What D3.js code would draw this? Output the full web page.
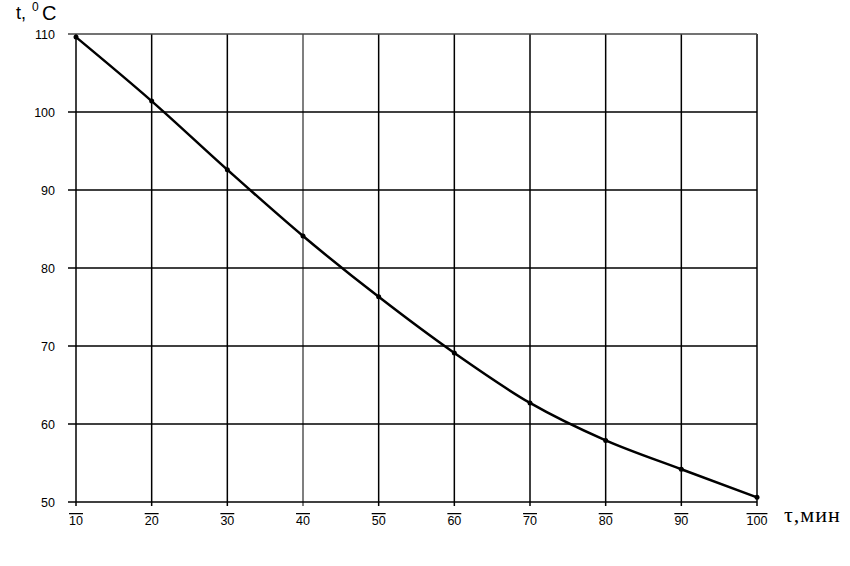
<!DOCTYPE html>
<html>
<head>
<meta charset="utf-8">
<script src="https://cdn.jsdelivr.net/npm/d3@7"></script>
<style>
	body { margin: 0; background: #fff; }
	svg { display: block; }
	.tick text { font-family: "Liberation Sans", Arial, sans-serif; font-size: 12.5px; fill: #000; }
</style>
</head>
<body>
<div id="chart"></div>
<script>
let minutes = [10, 20, 30, 40, 50, 60, 70, 80, 90, 100];
let temps = [109.6, 101.4, 92.6, 84.1, 76.3, 69.1, 62.7, 57.9, 54.2, 50.6];
let xTicks = [10, 20, 30, 40, 50, 60, 70, 80, 90, 100];
let yTicks = [50, 60, 70, 80, 90, 100, 110];

let width = 850, height = 566;
let margin = { left: 76, right: 93, top: 34, bottom: 64 };

let svg = d3.select("#chart").append("svg").
	attr("width", width).
	attr("height", height);

let x = d3.scaleLinear().domain([10, 100]).range([margin.left, width - margin.right]);
let y = d3.scaleLinear().domain([50, 110]).range([height - margin.bottom, margin.top]);

// grid
svg.append("g").
	selectAll("line").
	data(xTicks).
	join("line").
	attr("x1", d => x(d)).attr("x2", d => x(d)).
	attr("y1", y(110)).attr("y2", y(50) + 4).
	attr("stroke", d => d === 40 ? "#555" : "#000").
	attr("stroke-width", 1.5);

svg.append("g").
	selectAll("line").
	data(yTicks).
	join("line").
	attr("x1", x(10) - 8).attr("x2", x(100)).
	attr("y1", d => y(d)).attr("y2", d => y(d)).
	attr("stroke", d => d === 110 ? "#444" : "#000").
	attr("stroke-width", 1.5);

// axis labels
svg.append("g").
	attr("class", "tick").
	selectAll("text").
	data(yTicks).
	join("text").
	attr("x", x(10) - 21).
	attr("y", d => y(d) + 5).
	attr("text-anchor", "end").
	text(d => d);

svg.append("g").
	attr("class", "tick").
	selectAll("text").
	data(xTicks).
	join("text").
	attr("x", d => x(d)).
	attr("y", y(50) + 23).
	attr("text-anchor", "middle").
	style("text-decoration", "overline").
	text(d => d);

// curve
let pts = minutes.map((m, i) => [m, temps[i]]);
let line = d3.line().
	x(d => x(d[0])).
	y(d => y(d[1])).
	curve(d3.curveMonotoneX);

svg.append("path").
	datum(pts).
	attr("d", line).
	attr("fill", "none").
	attr("stroke", "#000").
	attr("stroke-width", 2.5);

svg.append("g").
	selectAll("circle").
	data(pts).
	join("circle").
	attr("cx", d => x(d[0])).
	attr("cy", d => y(d[1])).
	attr("r", 2.5).
	attr("fill", "#000");

// titles
let sans = "'Liberation Sans', Arial, sans-serif";
svg.append("text").attr("x", 16).attr("y", 19).
	style("font-family", sans).style("font-size", "18px").text("t,");
svg.append("text").attr("x", 32).attr("y", 11).
	style("font-family", sans).style("font-size", "12px").text("0");
svg.append("text").attr("x", 42).attr("y", 20).
	style("font-family", sans).style("font-size", "20px").text("C");

svg.append("text").
	attr("x", 784).
	attr("y", 522).
	style("font-family", "'Liberation Serif', 'Times New Roman', serif").
	style("font-size", "22px").
	style("letter-spacing", "1px").
	text("τ,мин");
</script>
</body>
</html>
